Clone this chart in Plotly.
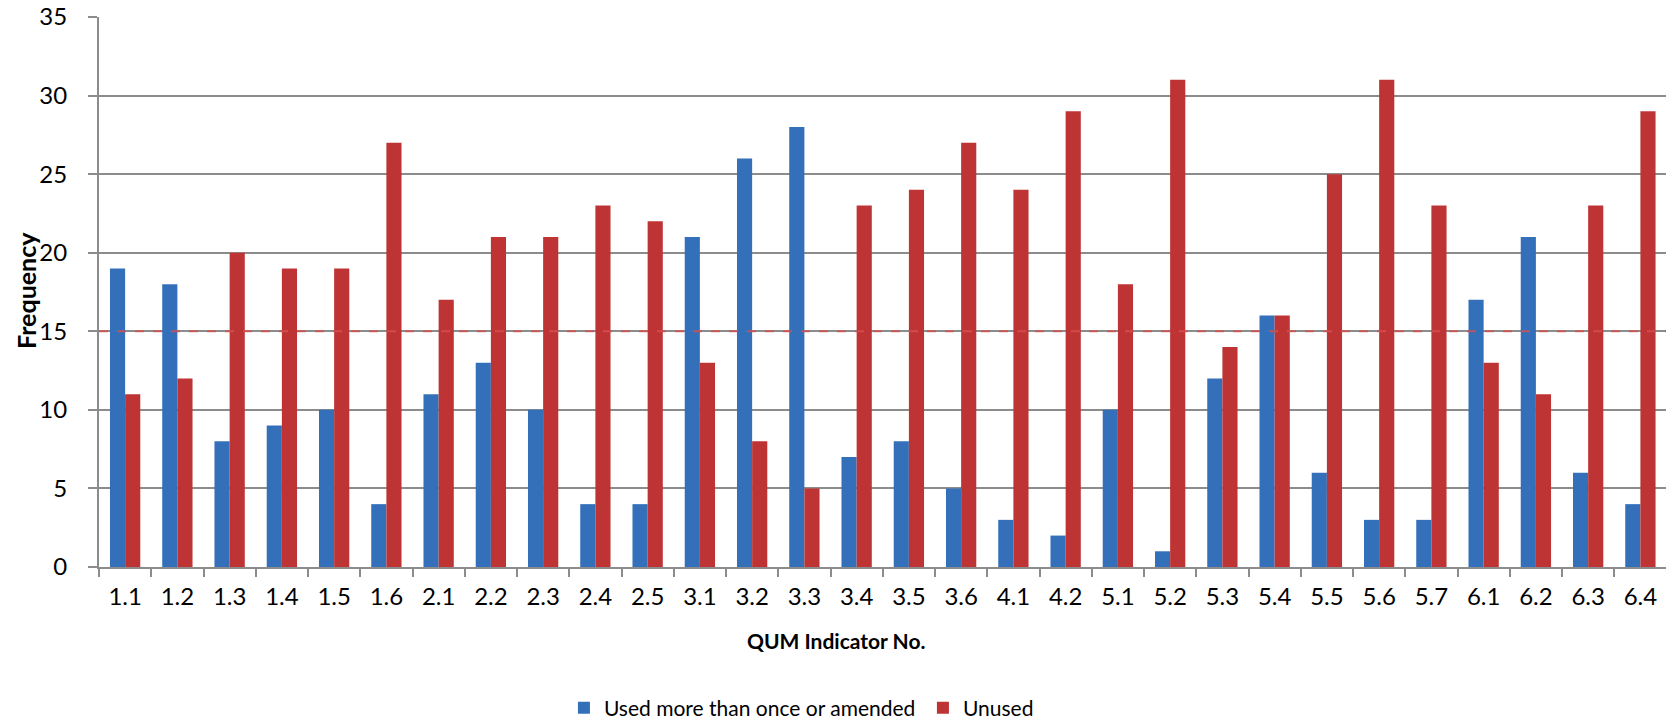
import plotly.graph_objects as go

categories = ["1.1", "1.2", "1.3", "1.4", "1.5", "1.6",
              "2.1", "2.2", "2.3", "2.4", "2.5",
              "3.1", "3.2", "3.3", "3.4", "3.5", "3.6",
              "4.1", "4.2",
              "5.1", "5.2", "5.3", "5.4", "5.5", "5.6", "5.7",
              "6.1", "6.2", "6.3", "6.4"]
used_more = [19, 18, 8, 9, 10, 4,
             11, 13, 10, 4, 4,
             21, 26, 28, 7, 8, 5,
             3, 2,
             10, 1, 12, 16, 6, 3, 3,
             17, 21, 6, 4]
unused = [11, 12, 20, 19, 19, 27,
          17, 21, 21, 23, 22,
          13, 8, 5, 23, 24, 27,
          24, 29,
          18, 31, 14, 16, 25, 31, 23,
          13, 11, 23, 29]
y_ticks = [0, 5, 10, 15, 20, 25, 30, 35]
ref_level = 15

FONT = "Lato"
BLUE = "#3470BA"
RED = "#BE3434"
GRID = "#8C8C8C"

fig = go.Figure()
fig.add_trace(go.Bar(x=categories, y=used_more, name="Used more than once or amended",
                     marker=dict(color=BLUE, line=dict(width=0))))
fig.add_trace(go.Bar(x=categories, y=unused, name="Unused",
                     marker=dict(color=RED, line=dict(width=0))))

fig.add_shape(type="line", xref="paper", yref="y", x0=0, x1=1, y0=ref_level, y1=ref_level,
              line=dict(color="rgba(214,80,80,0.85)", width=2, dash="dash"), layer="above")

fig.update_layout(
    width=1666, height=724,
    margin=dict(l=99, r=0, t=17, b=157, pad=0, autoexpand=False),
    paper_bgcolor="white", plot_bgcolor="white",
    barmode="group", bargap=0.42, bargroupgap=0,
    font=dict(family=FONT, size=21, color="#000000"),
    showlegend=True,
    legend=dict(orientation="h", x=0.2967, xanchor="left", y=(567 - 708) / 550, yanchor="middle",
                font=dict(family=FONT, size=21, color="#000000"),
                entrywidth=314, entrywidthmode="pixels", traceorder="normal"),
)
fig.update_xaxes(
    type="category", range=[-0.5, 29.49], automargin=False,
    showline=True, linecolor=GRID, linewidth=2,
    ticks="outside", ticklen=8, tickwidth=2, tickcolor=GRID,
    tickson="boundaries", showgrid=False,
    tickfont=dict(family=FONT, size=24, color="#000000"),
    ticklabelstandoff=7,
)
fig.update_yaxes(
    range=[0, 35], tickvals=y_ticks, automargin=False,
    showline=True, linecolor=GRID, linewidth=2,
    ticks="outside", ticklen=9, tickwidth=2, tickcolor=GRID,
    showgrid=True, gridcolor=GRID, gridwidth=2,
    zeroline=False,
    tickfont=dict(family=FONT, size=24, color="#000000"),
    ticklabelstandoff=16,
)

fig.add_annotation(text="<b>Frequency</b>", xref="paper", yref="paper",
                   x=(26 - 99) / 1567, y=(567 - 291) / 550, textangle=-90,
                   showarrow=False, xanchor="center", yanchor="middle",
                   font=dict(family=FONT, size=25, color="#000000"))
fig.add_annotation(text="<b>QUM Indicator No.</b>", xref="paper", yref="paper",
                   x=(836 - 99) / 1567, y=(567 - 640) / 550,
                   showarrow=False, xanchor="center", yanchor="middle",
                   font=dict(family=FONT, size=21, color="#000000"))

fig.write_html("out.html", config={"displayModeBar": False},
               post_script="document.body.style.margin='0';document.body.style.overflow='hidden';")
